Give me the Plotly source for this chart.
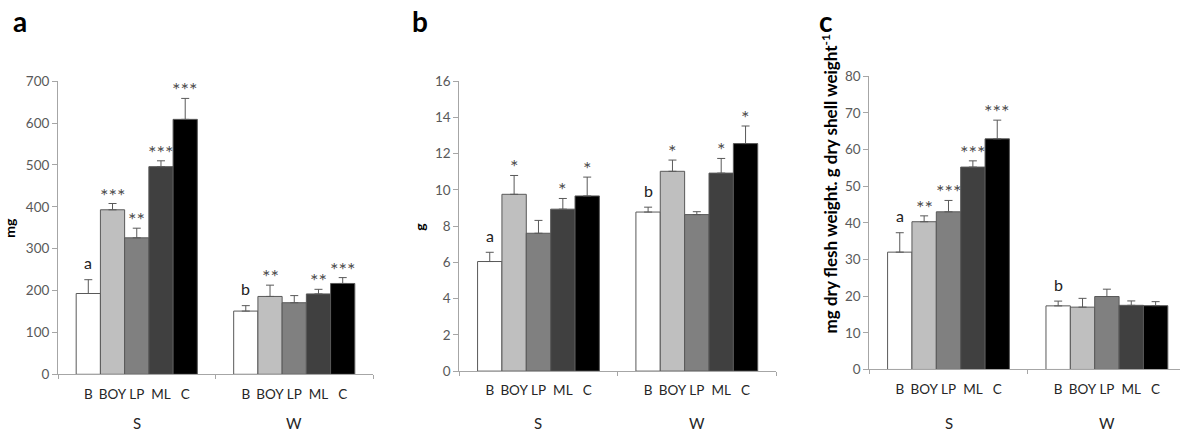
import plotly.graph_objects as go

# ---------------- data ----------------
groups = ["S", "W"]
series = ["B", "BOY", "LP", "ML", "C"]
bar_colors = ["#FFFFFF", "#BFBFBF", "#808080", "#404040", "#000000"]

# panel a (mg)
a_S = [193, 393, 326, 496, 609]
a_S_err = [33, 15, 23, 14, 50]
a_W = [151, 186, 171, 192, 217]
a_W_err = [13, 27, 17, 11, 14]
a_S_sig = ["a", "***", "**", "***", "***"]
a_W_sig = ["b", "**", "", "**", "***"]

# panel b (g)
b_S = [6.05, 9.76, 7.61, 8.94, 9.67]
b_S_err = [0.51, 1.04, 0.71, 0.59, 1.04]
b_W = [8.78, 11.03, 8.64, 10.93, 12.56]
b_W_err = [0.27, 0.62, 0.16, 0.81, 0.97]
b_S_sig = ["a", "*", "", "*", "*"]
b_W_sig = ["b", "*", "", "*", "*"]

# panel c (mg dry flesh weight per g dry shell weight)
c_S = [32.0, 40.3, 43.0, 55.2, 62.9]
c_S_err = [5.3, 1.6, 3.1, 1.7, 5.1]
c_W = [17.35, 17.0, 19.9, 17.5, 17.4]
c_W_err = [1.3, 2.4, 2.0, 1.2, 1.1]
c_S_sig = ["a", "**", "***", "***", "***"]
c_W_sig = ["b", "", "", "", ""]

panel_letters = ["a", "b", "c"]
y_titles = ["mg", "g", "mg dry flesh weight. g dry shell weight<sup>-1</sup>"]
y_ranges = [[0, 700], [0, 16], [0, 80]]
y_dticks = [100, 2, 10]

# ---------------- layout helpers ----------------
W, H = 1180, 444
FONT = "Lato"
AX_COL = "#A6A6A6"


def px(x):
    return x / W


def py(y):
    return (H - y) / H


bargap = 0.2308
barw = (1 - bargap) / len(series)

panels = [
    dict(S=a_S, Se=a_S_err, Wv=a_W, We=a_W_err, Ss=a_S_sig, Ws=a_W_sig,
         xd=[58, 373], yd=[76, 380], xr=[-0.5, 1.5], letter_x=11, title_x=10, title_y=228, title_size=14),
    dict(S=b_S, Se=b_S_err, Wv=b_W, We=b_W_err, Ss=b_S_sig, Ws=b_W_sig,
         xd=[459.3, 776], yd=[76, 376.7], xr=[-0.5, 1.5], letter_x=410, title_x=420, title_y=227, title_size=14),
    dict(S=c_S, Se=c_S_err, Wv=c_W, We=c_W_err, Ss=c_S_sig, Ws=c_W_sig,
         xd=[869.3, 1180], yd=[70.7, 375], xr=[-0.5, 1.4615], letter_x=817, title_x=829, title_y=183, title_size=17),
]

fig = go.Figure()
annotations = []
layout_axes = {}

for k, p in enumerate(panels, start=1):
    xa = "x" if k == 1 else f"x{k}"
    ya = "y" if k == 1 else f"y{k}"
    for j, name in enumerate(series):
        fig.add_trace(go.Bar(
            x=[0, 1],
            y=[p["S"][j], p["Wv"][j]],
            name=name,
            marker=dict(color=bar_colors[j], line=dict(color="#595959", width=1)),
            error_y=dict(type="data", symmetric=False,
                         array=[p["Se"][j], p["We"][j]],
                         arrayminus=[0, 0],
                         color="#595959", thickness=1, width=4),
            xaxis=xa, yaxis=ya, showlegend=False,
        ))
        # significance marks
        for gi, (vals, errs, sigs) in enumerate([(p["S"], p["Se"], p["Ss"]), (p["Wv"], p["We"], p["Ws"])]):
            s = sigs[j]
            if not s:
                continue
            is_star = s.startswith("*")
            annotations.append(dict(
                x=gi + (j - 2) * barw, xref=xa,
                y=vals[j] + errs[j], yref=ya,
                text=s, showarrow=False, yanchor="middle", xanchor="center",
                yshift=9 if is_star else 17,
                font=dict(family=FONT, size=20 if is_star else 16, color="#4D4D4D" if is_star else "#222222"),
            ))

    tickvals = [gi + (j - 2) * barw for gi in range(len(groups)) for j in range(len(series))]
    ticktext = [s for _ in groups for s in series]

    xkey = "xaxis" if k == 1 else f"xaxis{k}"
    ykey = "yaxis" if k == 1 else f"yaxis{k}"
    layout_axes[xkey] = dict(
        domain=[px(p["xd"][0]), px(p["xd"][1])],
        range=p["xr"], anchor=ya,
        showline=True, linecolor=AX_COL, linewidth=1,
        showgrid=False, zeroline=False,
        tickmode="array", tickvals=tickvals, ticktext=ticktext,
        ticks="", ticklabelstandoff=7,
        tickfont=dict(family=FONT, size=13.5, color="#262626"),
        minor=dict(tickmode="array", tickvals=[-0.5, 0.5, 1.5], ticks="outside",
                   ticklen=4, tickcolor=AX_COL, tickwidth=1),
        fixedrange=True,
    )
    layout_axes[ykey] = dict(
        domain=[py(p["yd"][1]), py(p["yd"][0])],
        range=y_ranges[k - 1], dtick=y_dticks[k - 1], tick0=0,
        anchor=xa,
        showline=True, linecolor=AX_COL, linewidth=1,
        showgrid=False, zeroline=False,
        ticks="outside", ticklen=5, tickcolor=AX_COL, tickwidth=1,
        tickfont=dict(family=FONT, size=13.5, color="#595959"),
        fixedrange=True,
    )

    # group labels S / W
    for gi, g in enumerate(groups):
        annotations.append(dict(
            x=gi, xref=xa, y=py(430), yref="paper", text=g, showarrow=False,
            yanchor="middle", xanchor="center",
            font=dict(family=FONT, size=15, color="#262626"),
        ))
    # panel letter
    annotations.append(dict(
        x=px(p["letter_x"]), xref="paper", y=py(14), yref="paper",
        text=f"<b>{panel_letters[k - 1]}</b>", showarrow=False,
        xanchor="left", yanchor="middle",
        font=dict(family=FONT, size=28, color="#000000"),
    ))
    # y-axis title
    annotations.append(dict(
        x=px(p["title_x"]), xref="paper", y=py(p["title_y"]), yref="paper",
        text=f"<b>{y_titles[k - 1]}</b>", showarrow=False, textangle=-90,
        xanchor="center", yanchor="middle",
        font=dict(family=FONT, size=p["title_size"], color="#000000"),
    ))

fig.update_layout(
    width=W, height=H,
    margin=dict(l=0, r=0, t=0, b=0),
    paper_bgcolor="white", plot_bgcolor="white",
    barmode="group", bargap=bargap, bargroupgap=0,
    showlegend=False,
    annotations=annotations,
    **layout_axes,
)

fig.write_html(
    "out.html",
    config={"displayModeBar": False},
    post_script="document.body.style.margin='0px';document.body.style.overflow='hidden';",
)
